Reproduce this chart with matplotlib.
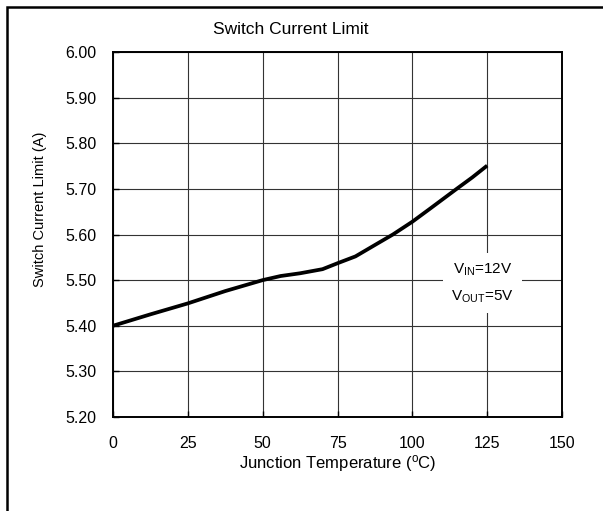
"""Switch current limit vs junction temperature."""

import numpy as np
import matplotlib
matplotlib.use("Agg")
import matplotlib.pyplot as plt
from matplotlib.patches import Rectangle

plt.rcParams["font.family"] = ["Liberation Sans", "DejaVu Sans"]
plt.rcParams["mathtext.fontset"] = "custom"
plt.rcParams["mathtext.rm"] = "Liberation Sans"

# data
temp_c = [0, 12.5, 25, 37.5, 50, 56, 62.5, 70, 75, 81, 87.5, 93.5, 100, 106, 114.8, 120, 125]
current_a = [5.400, 5.425, 5.449, 5.476, 5.500, 5.509, 5.515, 5.524, 5.537, 5.552,
             5.577, 5.600, 5.628, 5.657, 5.700, 5.725, 5.751]
x_ticks = [0, 25, 50, 75, 100, 125, 150]
y_ticks = [5.20, 5.30, 5.40, 5.50, 5.60, 5.70, 5.80, 5.90, 6.00]

W, H = 603, 511
fig = plt.figure(figsize=(W / 100, H / 100), dpi=100)
ax = fig.add_axes([113 / W, 1 - 417 / H, 449 / W, 365 / H])

ax.plot(temp_c, current_a, color="black", linewidth=2.7, solid_capstyle="butt",
        solid_joinstyle="round", zorder=3)

ax.set_xlim(0, 150)
ax.set_ylim(5.20, 6.00)
ax.set_xticks(x_ticks)
ax.set_yticks(y_ticks)
ax.set_yticklabels([f"{v:.2f}" for v in y_ticks])
ax.grid(True, color="#333333", linewidth=0.8)
ax.tick_params(direction="in", length=4, width=1, labelsize=11.5, colors="black")
ax.tick_params(axis="x", pad=14)
ax.tick_params(axis="y", pad=12)
for s in ax.spines.values():
    s.set_linewidth(1.4)

ax.set_xlabel(r"Junction Temperature ($\mathregular{^{o}}$C)", fontsize=12, labelpad=1)
fig.text(40 / W, 1 - 209 / H, "Switch Current Limit (A)", rotation=90,
         ha="center", va="center", fontsize=10.5)
fig.text(291 / W, 1 - 30 / H, "Switch Current Limit", ha="center", va="center", fontsize=12.5)

ax.text(123.5, 5.493, "$\\mathregular{V_{IN}}$=12V\n$\\mathregular{V_{OUT}}$=5V",
        ha="center", va="center", fontsize=11, linespacing=1.85, zorder=4,
        bbox=dict(facecolor="white", edgecolor="none", pad=6))

# outer frame (right and bottom edges fall outside the image)
fig.add_artist(Rectangle((7 / W, -0.5), 2, 1.5 - 7 / H, transform=fig.transFigure,
                         fill=False, edgecolor="black", linewidth=1.8))

fig.savefig("out.png", dpi=100)
